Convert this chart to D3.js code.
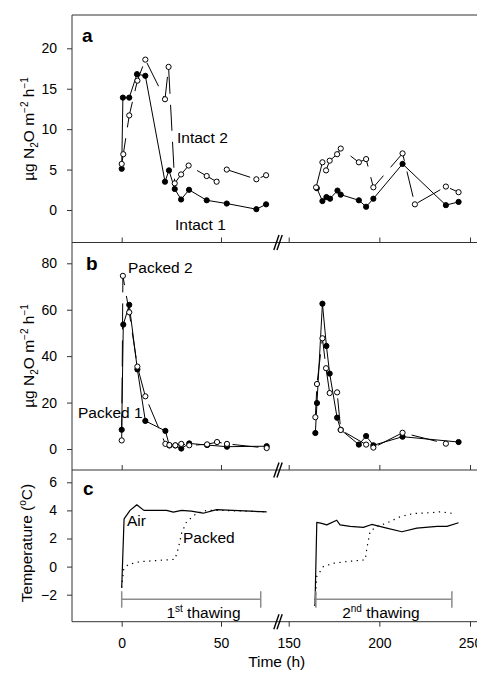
<!DOCTYPE html>
<html><head><meta charset="utf-8">
<script src="https://cdn.jsdelivr.net/npm/d3@7"></script>
<style>
body{margin:0;background:#fff}
text{font-family:"Liberation Sans",Arial,sans-serif;fill:#000}
</style>
</head><body>
<svg id="chart" width="477" height="673"></svg>
<script>
// ---------- DATA ----------
// Panel a: intact cores (µg N2O m-2 h-1)
const intact1Time = [0, 0.6, 3.8, 7.7, 11.9, 21.8, 23.8, 26.7, 29.9, 33.9, 42.8, 52.9, 67.8, 72.7,
  165.5, 168.6, 170.8, 172.8, 176.9, 178.7, 188.7, 192.7, 196.7, 212.8, 236.7, 243.7];
const intact1 = [5.1, 13.9, 13.9, 16.8, 16.6, 3.5, 4.9, 2.6, 1.3, 2.5, 1.2, 0.8, 0.1, 0.7,
  2.7, 1.1, 1.6, 1.4, 2.4, 1.9, 1.2, 0.4, 1.4, 5.7, 0.6, 1.0];
const intact2Time = [0, 0.8, 3.8, 7.9, 11.9, 21.8, 23.6, 26.7, 29.9, 33.7, 42.8, 47.8, 52.9, 67.8, 72.7,
  165.1, 168.6, 170.6, 172.6, 176.7, 178.7, 188.7, 192.7, 196.7, 212.8, 219.6, 236.7, 243.7];
const intact2 = [5.7, 6.9, 11.7, 16.0, 18.6, 13.7, 17.7, 3.3, 4.4, 5.5, 4.2, 3.5, 5.0, 3.8, 4.3,
  2.8, 5.9, 4.9, 6.1, 6.9, 7.6, 5.9, 6.3, 2.8, 7.0, 0.7, 2.9, 2.2];
// Panel b: packed cores
const packed1Time = [0, 0.8, 3.8, 7.9, 11.9, 22, 24, 27, 30, 34, 43, 53, 73,
  164.7, 165.6, 168.6, 170.8, 172.6, 176.7, 178.7, 188.7, 192.7, 196.7, 212.8, 243.7];
const packed1 = [8.3, 53.6, 62.1, 34.3, 12.1, 7.8, 1.5, 1.5, 0.2, 2.4, 1.7, 1.0, 1.2,
  6.9, 19.8, 62.6, 44.4, 32.5, 13.5, 8.3, 1.9, 5.6, 1.6, 5.3, 3.0];
const packed2Time = [0, 0.6, 3.8, 7.9, 11.9, 22, 24, 27, 30, 34, 43, 48, 53, 73,
  164.7, 165.6, 168.6, 170.6, 172.6, 176.7, 178.7, 192.7, 196.7, 212.8, 236.7];
const packed2 = [3.7, 74.6, 58.9, 35.5, 22.7, 2.2, 1.7, 1.6, 2.2, 1.6, 2.0, 3.0, 2.2, 0.4,
  13.7, 28.0, 47.7, 34.8, 24.1, 24.4, 8.2, 1.9, 0.6, 7.0, 2.3];
// Panel c: temperature (°C)
const airTime = [0, 1.2, 4.2, 7.6, 11.2, 22.6, 26, 30.2, 35, 41, 47.8, 56, 73,
  164.5, 165.5, 168.2, 171, 176.5, 178.3, 183.9, 191.2, 195.8, 204.1, 212.4, 220.7, 231.8, 237.3, 243.7];
const airTemp = [-1.5, 3.4, 4.0, 4.4, 4.0, 4.0, 3.88, 4.0, 3.95, 3.8, 4.05, 4.0, 3.9,
  -2.8, 3.15, 3.08, 2.97, 3.3, 2.97, 2.86, 2.79, 3.0, 2.74, 2.48, 2.74, 2.86, 2.86, 3.12];
const packedTime = [0, 1, 3.2, 9.2, 17.5, 26.8, 28.5, 30.2, 32.7, 37.8, 42.8, 50, 73,
  164.5, 165.5, 169.1, 174.7, 182, 192.2, 193.1, 194.9, 198.6, 204.1, 211.5, 218.8, 229.9, 233.6, 240.9];
const packedTemp = [-1.5, -0.2, 0.15, 0.35, 0.43, 0.52, 1.3, 2.4, 3.2, 3.8, 4.0, 4.0, 3.9,
  -2.8, -0.7, 0.0, 0.24, 0.36, 0.48, 1.3, 2.5, 2.86, 3.1, 3.55, 3.78, 3.85, 3.9, 3.78];
// thawing periods
const thawStart = [0, 165];
const thawEnd = [70, 240];
const thawNum = ["1", "2"];
const thawSup = ["st", "nd"];
// ticks
const xTicksLeft = [0, 50];
const xTicksRight = [150, 200, 250];
const yTicksA = [0, 5, 10, 15, 20];
const yTicksB = [0, 20, 40, 60, 80];
const yTicksC = [-2, 0, 2, 4, 6];

// ---------- LAYOUT ----------
const svg = d3.select("#chart");
const frameL = 72, frameR = 490;
const yTopA = 15, yBotA = 242.5, yBotB = 470, yBotC = 621.7;
const breakX = 278;

const xL = d3.scaleLinear().domain([0, 50]).range([121.7, 221]);
const xR = d3.scaleLinear().domain([150, 250]).range([288.7, 470]);
const xPos = t => t < 100 ? xL(t) : xR(t);
const yA = d3.scaleLinear().domain([0, 20]).range([210, 48.3]);
const yB = d3.scaleLinear().domain([0, 80]).range([449, 263.3]);
const yC = d3.scaleLinear().domain([-2, 6]).range([594.7, 482.3]);

const frameColor = "#333";

// frame
svg.append("line").attr("x1", frameL).attr("x2", frameL).attr("y1", yTopA).attr("y2", yBotC)
  .attr("stroke", frameColor).attr("stroke-width", 1);
[yTopA, yBotA, yBotB, yBotC].forEach(y => {
  svg.append("line").attr("x1", frameL).attr("x2", frameR).attr("y1", y).attr("y2", y)
    .attr("stroke", frameColor).attr("stroke-width", 1);
});

function styleAxis(g, fontSize) {
  g.select(".domain").remove();
  g.selectAll(".tick line").attr("stroke", frameColor);
  g.selectAll(".tick text").style("font-family", '"Liberation Sans",Arial,sans-serif')
    .style("font-size", fontSize + "px").attr("fill", "#000");
}

// y axes
[[yA, yTicksA], [yB, yTicksB], [yC, yTicksC]].forEach(([sc, tv]) => {
  const g = svg.append("g").attr("transform", `translate(${frameL},0)`)
    .call(d3.axisLeft(sc).tickValues(tv).tickSize(5).tickPadding(10).tickFormat(d3.format("d")));
  styleAxis(g, 14);
});

// inner x ticks at bottoms of panels a and b
[yBotA, yBotB].forEach(y => {
  [[xL, xTicksLeft], [xR, xTicksRight]].forEach(([sc, tv]) => {
    const g = svg.append("g").attr("transform", `translate(0,${y})`)
      .call(d3.axisBottom(sc).tickValues(tv).tickSize(-5).tickFormat(""));
    styleAxis(g, 14);
  });
});
// bottom x axis
[[xL, xTicksLeft], [xR, xTicksRight]].forEach(([sc, tv]) => {
  const g = svg.append("g").attr("transform", `translate(0,${yBotC})`)
    .call(d3.axisBottom(sc).tickValues(tv).tickSize(5).tickPadding(11).tickFormat(d3.format("d")));
  styleAxis(g, 14);
});

// break marks
[yBotA, yBotB, yBotC].forEach(y => {
  [-1.6, 1.6].forEach(dx => {
    svg.append("line")
      .attr("x1", breakX + dx - 2.6).attr("y1", y + 7.5)
      .attr("x2", breakX + dx + 2.6).attr("y2", y - 7.5)
      .attr("stroke", "#000").attr("stroke-width", 1.4);
  });
});

// ---------- SERIES ----------
function drawSeries(times, vals, ys, opts) {
  const pts = times.map((t, i) => ({ t, v: vals[i] }));
  const segs = [pts.filter(p => p.t < 100), pts.filter(p => p.t >= 100)];
  const line = d3.line().x(d => xPos(d.t)).y(d => ys(d.v));
  segs.forEach(s => {
    svg.append("path").attr("d", line(s)).attr("fill", "none")
      .attr("stroke", "#000").attr("stroke-width", opts.width || 1)
      .attr("stroke-dasharray", opts.dash || null)
      .attr("stroke-linejoin", "round");
  });
  return pts;
}
function drawPoints(pts, ys, filled) {
  svg.append("g").selectAll("circle").data(pts).join("circle")
    .attr("cx", d => xPos(d.t)).attr("cy", d => ys(d.v)).attr("r", 2.6)
    .attr("fill", filled ? "#000" : "#fff").attr("stroke", "#000").attr("stroke-width", 1);
}

const dashOpen = "26,11";
const pI1 = drawSeries(intact1Time, intact1, yA, {});
const pI2 = drawSeries(intact2Time, intact2, yA, { dash: dashOpen });
drawPoints(pI1, yA, true);
drawPoints(pI2, yA, false);

const pP1 = drawSeries(packed1Time, packed1, yB, {});
const pP2 = drawSeries(packed2Time, packed2, yB, { dash: dashOpen });
drawPoints(pP1, yB, true);
drawPoints(pP2, yB, false);

drawSeries(airTime, airTemp, yC, { width: 1.2 });
drawSeries(packedTime, packedTemp, yC, { width: 1.2, dash: "1.3,4.5" });

// thawing bars
const thawY = yC(-2.32);
thawStart.forEach((s, i) => {
  const x1 = xPos(s), x2 = xPos(thawEnd[i]);
  const g = svg.append("g").attr("stroke", "#8c8c8c").attr("stroke-width", 1.5);
  g.append("line").attr("x1", x1).attr("x2", x2).attr("y1", thawY).attr("y2", thawY);
  [x1, x2].forEach(x => g.append("line").attr("x1", x).attr("x2", x)
    .attr("y1", thawY - 8).attr("y2", thawY + 8.5));
  const t = svg.append("text").attr("x", i === 0 ? xL(22.5) : xR(179.5)).attr("y", 618)
    .style("font-size", "15.5px");
  t.append("tspan").text(thawNum[i]);
  t.append("tspan").attr("dy", -6).style("font-size", "10px").text(thawSup[i]);
  t.append("tspan").attr("dy", 6).text(" thawing");
});

// ---------- TEXT ----------
function label(txt, x, y, size, weight) {
  svg.append("text").attr("x", x).attr("y", y).style("font-size", size + "px")
    .style("font-weight", weight || "normal").text(txt);
}
label("a", 82, 42, 19, "bold");
label("b", 86, 270, 19, "bold");
label("c", 83, 495, 19, "bold");
label("Intact 2", 177, 143, 15.5);
label("Intact 1", 175, 230, 15.5);
label("Packed 2", 128, 273, 15.5);
label("Packed 1", 78, 418, 15.5);
label("Air", 127, 526, 15.5);
label("Packed", 183, 543, 15.5);

svg.append("text").attr("x", 276.7).attr("y", 667).attr("text-anchor", "middle")
  .style("font-size", "15.5px").text("Time (h)");

function n2oLabel(cy) {
  const t = svg.append("text").attr("transform", `translate(34,${cy}) rotate(-90)`)
    .attr("text-anchor", "middle").style("font-size", "15.5px");
  t.append("tspan").text("µg N");
  t.append("tspan").attr("dy", 4).style("font-size", "10px").text("2");
  t.append("tspan").attr("dy", -4).text("O m");
  t.append("tspan").attr("dy", -6).style("font-size", "10px").text("−2");
  t.append("tspan").attr("dy", 6).text(" h");
  t.append("tspan").attr("dy", -6).style("font-size", "10px").text("−1");
}
n2oLabel(129);
n2oLabel(356);

const tl = svg.append("text").attr("transform", "translate(32,543) rotate(-90)")
  .attr("text-anchor", "middle").style("font-size", "15.5px");
tl.append("tspan").text("Temperature (");
tl.append("tspan").attr("dy", -6).style("font-size", "10px").text("o");
tl.append("tspan").attr("dy", 6).text("C)");
</script>
</body></html>
